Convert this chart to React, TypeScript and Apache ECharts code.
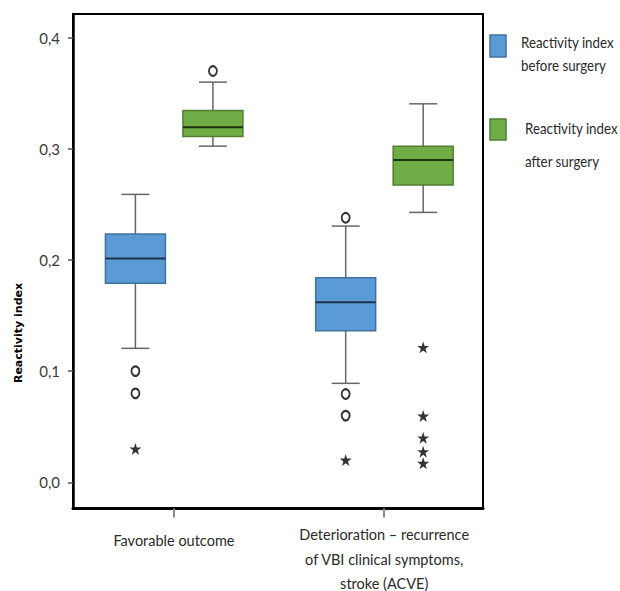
import React, { useEffect, useRef } from "react";
import * as echarts from "echarts";

// ---- data ----
const categories = [
  "Favorable outcome",
  "Deterioration – recurrence\nof VBI clinical symptoms,\nstroke (ACVE)",
];
const yTicks = [0, 0.1, 0.2, 0.3, 0.4];
// [low whisker, Q1, median, Q3, high whisker]
const beforeBox = [
  [0.1205, 0.179, 0.2014, 0.2233, 0.259],
  [0.089, 0.1363, 0.1619, 0.184, 0.2305],
];
const afterBox = [
  [0.3024, 0.311, 0.3195, 0.3345, 0.36],
  [0.2428, 0.2674, 0.29, 0.3024, 0.3405],
];
// outliers: [category index, value]
const beforeCircles = [
  [0, 0.1],
  [0, 0.08],
  [1, 0.238],
  [1, 0.0794],
  [1, 0.06],
];
const beforeStars = [
  [0, 0.03],
  [1, 0.02],
];
const afterCircles = [[0, 0.37]];
const afterStars = [
  [1, 0.1214],
  [1, 0.0596],
  [1, 0.04],
  [1, 0.0275],
  [1, 0.0171],
];
const legendNames = ["Reactivity index\nbefore surgery", "Reactivity index\nafter surgery"];

// ---- styles ----
const BLUE = "#5B9BD5";
const BLUE_EDGE = "#41719C";
const GREEN = "#70AD47";
const GREEN_EDGE = "#507E32";
const WHISKER = "#666666";
const BOX_W = 60;
const CAP_W = 28;
const OFF_BEFORE = -38.5;
const OFF_AFTER = 39;
const FONT = "Lato, 'Open Sans', sans-serif";
const STAR =
  "path://M50,0L61.2,34.5L97.6,34.5L68.2,55.9L79.4,90.5L50,69.1L20.6,90.5L31.8,55.9L2.4,34.5L38.8,34.5Z";

const makeRender =
  (offset: number, fill: string, edge: string, medianColor: string) =>
  (_params: any, api: any) => {
    const x = api.value(0);
    const low = api.coord([x, api.value(1)]);
    const q1 = api.coord([x, api.value(2)]);
    const med = api.coord([x, api.value(3)]);
    const q3 = api.coord([x, api.value(4)]);
    const high = api.coord([x, api.value(5)]);
    const cx = low[0] + offset;
    const hw = BOX_W / 2;
    const cw = CAP_W / 2;
    const ws = { stroke: WHISKER, lineWidth: 1.5 };
    return {
      type: "group",
      children: [
        { type: "line", shape: { x1: cx, y1: high[1], x2: cx, y2: q3[1] }, style: ws },
        { type: "line", shape: { x1: cx, y1: q1[1], x2: cx, y2: low[1] }, style: ws },
        { type: "line", shape: { x1: cx - cw, y1: high[1], x2: cx + cw, y2: high[1] }, style: ws },
        { type: "line", shape: { x1: cx - cw, y1: low[1], x2: cx + cw, y2: low[1] }, style: ws },
        {
          type: "rect",
          shape: { x: cx - hw, y: q3[1], width: BOX_W, height: q1[1] - q3[1] },
          style: { fill, stroke: edge, lineWidth: 1.5 },
        },
        {
          type: "line",
          shape: { x1: cx - hw, y1: med[1], x2: cx + hw, y2: med[1] },
          style: { stroke: medianColor, lineWidth: 2 },
        },
      ],
    };
  };

const circleStyle = { color: "#ffffff", borderColor: "#000000", borderWidth: 2 };
const starStyle = { color: "#000000" };
const legendText = (x: number, y: number, text: string) => ({
  type: "text",
  x,
  y,
  scaleX: 0.86,
  style: { text, fontFamily: FONT, fontSize: 15.5, fill: "#2a2a2a", verticalAlign: "middle" },
});

export default function App() {
  const ref = useRef<HTMLDivElement>(null);
  useEffect(() => {
    if (!ref.current) return;
    const chart = echarts.init(ref.current, undefined, { renderer: "svg" });
    chart.setOption({
      animation: false,
      backgroundColor: "#ffffff",
      grid: {
        left: 73,
        top: 14,
        width: 410,
        height: 494.5,
        show: true,
        borderColor: "#000000",
        borderWidth: 2,
        containLabel: false,
        outerBoundsMode: "none",
      },
      xAxis: {
        type: "value",
        min: -0.48,
        max: 1.47,
        splitLine: { show: false },
        axisLine: { show: true, onZero: false, lineStyle: { color: "#000", width: 3 } },
        axisTick: {
          show: true,
          customValues: [0, 1],
          length: 9,
          lineStyle: { color: "#888", width: 2 },
        },
        axisLabel: {
          customValues: [0, 1],
          margin: 14,
          fontFamily: FONT,
          fontSize: 14.5,
          lineHeight: 24.5,
          color: "#2a2a2a",
          align: "center",
          formatter: (v: number) =>
            v === 0 ? "{a|" + categories[0] + "}" : categories[Math.round(v)],
          rich: {
            a: {
              fontFamily: FONT,
              fontSize: 14.5,
              color: "#2a2a2a",
              lineHeight: 24.5,
              padding: [11, 0, 0, 0],
            },
          },
        },
      },
      yAxis: {
        type: "value",
        min: -0.0236,
        max: 0.4213,
        splitLine: { show: false },
        axisLine: { show: true, onZero: false, lineStyle: { color: "#000", width: 2.5 } },
        axisTick: {
          show: true,
          customValues: yTicks,
          length: 5,
          lineStyle: { color: "#555", width: 1.5 },
        },
        axisLabel: {
          customValues: yTicks,
          margin: 13,
          fontFamily: FONT,
          fontSize: 15,
          color: "#3a3a3a",
          formatter: (v: number) => v.toFixed(1).replace(".", ","),
        },
      },
      series: [
        {
          type: "custom",
          name: legendNames[0],
          renderItem: makeRender(OFF_BEFORE, BLUE, BLUE_EDGE, "#1c3350"),
          data: beforeBox.map((b, i) => [i, ...b]),
          encode: { x: 0, y: [1, 2, 3, 4, 5] },
          itemStyle: { color: BLUE },
          z: 2,
        },
        {
          type: "custom",
          name: legendNames[1],
          renderItem: makeRender(OFF_AFTER, GREEN, GREEN_EDGE, "#1e3210"),
          data: afterBox.map((b, i) => [i, ...b]),
          encode: { x: 0, y: [1, 2, 3, 4, 5] },
          itemStyle: { color: GREEN },
          z: 2,
        },
        {
          type: "scatter",
          data: beforeCircles,
          symbol: "circle",
          symbolSize: [8, 9.5],
          symbolOffset: [OFF_BEFORE, 0],
          itemStyle: circleStyle,
          z: 3,
        },
        {
          type: "scatter",
          data: afterCircles,
          symbol: "circle",
          symbolSize: [8, 9.5],
          symbolOffset: [OFF_AFTER, 0],
          itemStyle: circleStyle,
          z: 3,
        },
        {
          type: "scatter",
          data: beforeStars,
          symbol: STAR,
          symbolSize: 12,
          symbolOffset: [OFF_BEFORE, 0],
          itemStyle: starStyle,
          z: 3,
        },
        {
          type: "scatter",
          data: afterStars,
          symbol: STAR,
          symbolSize: 12,
          symbolOffset: [OFF_AFTER, 0],
          itemStyle: starStyle,
          z: 3,
        },
      ],
      graphic: [
        {
          type: "text",
          x: 18,
          y: 333,
          rotation: Math.PI / 2,
          style: {
            text: "Reactivity index",
            fontFamily: "'DejaVu Sans', Verdana, sans-serif",
            fontWeight: "bold",
            fontSize: 11,
            fill: "#000",
            align: "center",
            verticalAlign: "middle",
          },
        },
        {
          type: "rect",
          shape: { x: 490, y: 35, width: 16, height: 22 },
          style: { fill: BLUE, stroke: BLUE_EDGE, lineWidth: 1.5 },
        },
        {
          type: "rect",
          shape: { x: 490, y: 119, width: 16, height: 21 },
          style: { fill: GREEN, stroke: GREEN_EDGE, lineWidth: 1.5 },
        },
        legendText(521, 42, "Reactivity index"),
        legendText(521, 65, "before surgery"),
        legendText(525, 128, "Reactivity index"),
        legendText(525, 161, "after surgery"),
      ],
    });
    return () => chart.dispose();
  }, []);
  return (
    <div
      ref={ref}
      style={{ position: "fixed", left: 0, top: 0, width: 620, height: 591, background: "#fff" }}
    />
  );
}
